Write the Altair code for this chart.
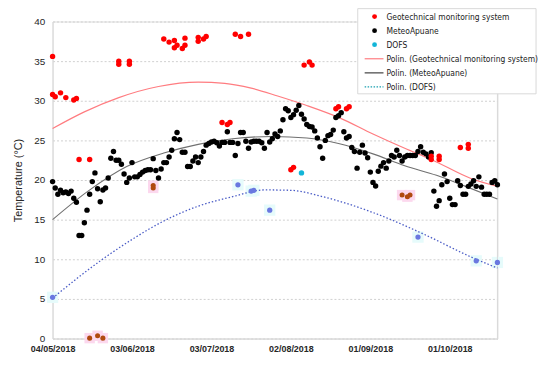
import altair as alt
import pandas as pd

# ---------------- data ----------------
tick_days = [0, 30, 60, 90, 120, 150]
tick_labels = ["04/05/2018", "03/06/2018", "03/07/2018", "02/08/2018", "01/09/2018", "01/10/2018"]
y_ticks = [0, 5, 10, 15, 20, 25, 30, 35, 40]

# MeteoApuane: one value per day from 04/05/2018
meteo_temp = [
    19.8, 19.0, 18.2, 18.7, 18.4, 18.5, 18.3, 18.6, 17.7, 17.2,
    13.0, 13.0, 14.6, 16.2, 18.2, 19.8, 20.9, 18.9, 17.25, 18.75,
    19.0, 20.25, 22.75, 23.6, 22.5, 22.5, 22.0, 20.75, 19.7, 20.25,
    22.2, 20.4, 20.4, 20.7, 21.0, 21.2, 21.3, 21.3, 22.7, 21.2,
    20.25, 21.4, 22.2, 22.2, 22.9, 23.75, 25.2, 26.0, 25.1, 23.5,
    23.5, 21.7, 21.7, 22.4, 22.9, 22.2, 22.9, 23.6, 24.4, 24.6,
    24.8, 24.9, 24.7, 24.3, 24.75, 24.75, 26.1, 24.75, 24.75, 23.1,
    24.6, 26.0, 26.0, 24.9, 24.0, 24.8, 24.9, 24.9, 24.9, 24.7,
    24.0, 26.0, 24.8, 25.2, 25.8, 25.5, 26.2, 27.6, 29.0, 28.75,
    27.9, 28.25, 28.8, 29.4, 28.3, 27.7, 27.0, 26.75, 26.7, 26.2,
    25.3, 24.2, 22.75, 25.0, 25.6, 25.75, 26.3, 27.9, 28.1, 28.5,
    26.1, 25.3, 25.5, 24.1, 23.6, 21.5, 23.5, 24.4, 23.4, 22.8,
    21.0, 19.7, 19.25, 21.1, 21.75, 22.2, 21.5, 22.4, 23.1, 22.9,
    23.75, 23.1, 22.4, 22.9, 23.1, 23.1, 23.1, 23.1, 23.6, 24.2,
    23.5, 23.3, 22.9, 23.45, 18.6, 16.7, 17.4, 19.4, 20.75, 19.8,
    17.7, 16.9, 16.9, 19.9, 19.3, 18.2, 18.2, 19.2, 19.5, 19.9,
    19.2, 20.4, 19.1, 18.2, 18.2, 18.2, 19.7, 19.9, 19.4,
]
meteo_days = list(range(len(meteo_temp)))

geo_days = [0, 0, 1, 3, 5, 8, 9, 10, 14, 25, 25, 29, 29, 42, 44, 46, 46, 47, 49, 50, 50,
            55, 55, 57, 58, 64, 66, 67, 69, 71, 74, 90, 91, 95, 97, 98, 107, 108, 111, 112,
            143, 143, 146, 146, 154, 157, 157]
geo_temp = [35.6, 30.8, 30.5, 31.0, 30.4, 30.1, 30.3, 22.6, 22.6, 35.0, 34.6, 35.0, 34.6,
            37.8, 37.4, 37.6, 36.7, 37.0, 36.6, 37.0, 37.9, 38.0, 37.5, 37.8, 38.1, 27.25,
            27.0, 27.25, 38.4, 38.1, 38.4, 21.3, 21.6, 34.5, 34.9, 34.5, 29.0, 29.25, 29.0,
            29.25, 23.0, 22.6, 23.0, 22.6, 24.1, 24.5, 24.0]

# highlighted (brown) readings
geo_low_days = [14, 17, 19, 38, 38, 132, 134, 135]
geo_low_temp = [0.05, 0.35, 0.05, 19.3, 19.0, 18.1, 17.9, 18.1]

dofs_days = [0, 70, 75, 76, 82, 138, 160, 168]
dofs_temp = [5.2, 19.4, 18.6, 18.7, 16.2, 12.8, 9.8, 9.6]
dofs_cyan_days = [94]
dofs_cyan_temp = [20.9]

# polynomial trend lines
trend_geo_days = [0, 12, 25, 40, 55, 65, 75, 85, 96, 108, 121, 133, 143, 158, 168]
trend_geo_temp = [26.5, 28.6, 30.4, 31.8, 32.35, 32.2, 31.6, 30.6, 29.4, 27.9, 25.8, 24.0, 22.6, 20.2, 19.2]
trend_met_days = [0, 13, 28, 42, 55, 68, 83, 96, 108, 121, 133, 145, 156, 168]
trend_met_temp = [15.0, 18.5, 21.7, 23.4, 24.5, 25.2, 25.5, 25.3, 24.6, 23.3, 21.8, 20.6, 19.2, 17.6]
trend_dofs_days = [0, 18, 30, 43, 55, 68, 80, 90, 102, 121, 140, 158, 168]
trend_dofs_temp = [5.1, 9.8, 12.5, 15.0, 16.7, 17.9, 18.75, 18.7, 17.9, 15.9, 13.2, 10.3, 8.9]

legend_labels = ["Geotechnical monitoring system", "MeteoApuane", "DOFS",
                 "Polin. (Geotechnical monitoring system)", "Polin. (MeteoApuane)", "Polin. (DOFS)"]

# ---------------- chart ----------------
W, H = 449, 320
FONT = "Liberation Sans"
LFONT = "DejaVu Sans Condensed"

label_expr = "[" + ",".join("'%s'" % t for t in tick_labels) + "][indexof(" + \
    "[" + ",".join(str(d) for d in tick_days) + "], datum.value)]"

X = alt.X("day:Q", scale=alt.Scale(domain=[0, 168], nice=False, zero=False),
          axis=alt.Axis(values=tick_days, labelExpr=label_expr, title=None, grid=False,
                        ticks=False, domainColor="#d9d9d9", labelFont=FONT, labelFontSize=9,
                        labelColor="#262626", labelPadding=6, labelFontWeight="bold",
                        labelFlush=False, labelOverlap=False))
Y = alt.Y("temp:Q", scale=alt.Scale(domain=[0, 40], nice=False),
          axis=alt.Axis(values=y_ticks, title="Temperature (°C)", grid=True, gridDash=[2, 2],
                        gridColor="#cfcfcf", ticks=False, domainColor="#d9d9d9",
                        labelFont=FONT, labelFontSize=10, labelColor="#262626", labelPadding=8,
                        titleFont=FONT, titleFontSize=11, titleFontWeight="normal",
                        titleColor="#262626", titlePadding=10))

meteo = pd.DataFrame({"day": meteo_days, "temp": meteo_temp})
geo = pd.DataFrame({"day": geo_days, "temp": geo_temp})
geo_low = pd.DataFrame({"day": geo_low_days, "temp": geo_low_temp})
dofs = pd.DataFrame({"day": dofs_days, "temp": dofs_temp})
dofs_c = pd.DataFrame({"day": dofs_cyan_days, "temp": dofs_cyan_temp})
tg = pd.DataFrame({"day": trend_geo_days, "temp": trend_geo_temp})
tm = pd.DataFrame({"day": trend_met_days, "temp": trend_met_temp})
td = pd.DataFrame({"day": trend_dofs_days, "temp": trend_dofs_temp})

layers = []
# halos
layers.append(alt.Chart(geo_low).mark_square(size=110, color="#fcd8ee", opacity=1).encode(x=X, y=Y))
layers.append(alt.Chart(dofs).mark_square(size=130, color="#e6fbfb", opacity=1).encode(x=X, y=Y))
# right border
layers.append(alt.Chart(pd.DataFrame({"a": [0]})).mark_rule(color="#d9d9d9", strokeWidth=1).encode(
    x=alt.value(W), y=alt.value(0), y2=alt.value(H)))
# trend lines
layers.append(alt.Chart(td).mark_line(color="#4a5cc6", strokeWidth=1.3, strokeDash=[1.5, 2],
                                       interpolate="monotone").encode(x=X, y=Y))
layers.append(alt.Chart(tg).mark_line(color="#ff7c80", strokeWidth=1.2,
                                       interpolate="monotone").encode(x=X, y=Y))
layers.append(alt.Chart(tm).mark_line(color="#707070", strokeWidth=1.1,
                                       interpolate="monotone").encode(x=X, y=Y))
# points
layers.append(alt.Chart(meteo).mark_circle(size=30, color="#000000", opacity=1).encode(x=X, y=Y))
layers.append(alt.Chart(geo).mark_circle(size=30, color="#ff0000", opacity=1).encode(x=X, y=Y))
layers.append(alt.Chart(geo_low).mark_circle(size=26, color="#b04a10", opacity=1).encode(x=X, y=Y))
layers.append(alt.Chart(dofs).mark_circle(size=28, color="#6a78e0", opacity=1).encode(x=X, y=Y))
layers.append(alt.Chart(dofs_c).mark_circle(size=30, color="#12b5d8", opacity=1).encode(x=X, y=Y))

# legend
LX0, LX1, LY0, LY1 = 308, 488, -13, 73
layers.append(alt.Chart(pd.DataFrame({"a": [0]})).mark_rect(fill="white", stroke="#d9d9d9",
                                                             strokeWidth=1).encode(
    x=alt.value(LX0), x2=alt.value(LX1), y=alt.value(LY0), y2=alt.value(LY1)))
row_y = [-5 + 14.2 * i for i in range(6)]
sym_colors = ["#ff0000", "#000000", "#12b5d8"]
for i in range(3):
    layers.append(alt.Chart(pd.DataFrame({"a": [0]})).mark_circle(size=24, color=sym_colors[i],
                                                                   opacity=1).encode(
        x=alt.value(325), y=alt.value(row_y[i])))
line_styles = [("#ff7c80", None, 1.2), ("#707070", None, 1.6), ("#1aa0b0", [1.5, 1.5], 1.4)]
for j, (c, d, w) in enumerate(line_styles):
    kw = dict(color=c, strokeWidth=w)
    if d:
        kw["strokeDash"] = d
    layers.append(alt.Chart(pd.DataFrame({"a": [0]})).mark_rule(**kw).encode(
        x=alt.value(315), x2=alt.value(334), y=alt.value(row_y[3 + j])))
for i, lab in enumerate(legend_labels):
    layers.append(alt.Chart(pd.DataFrame({"label": [lab]})).mark_text(
        align="left", baseline="middle", font=LFONT, fontSize=8.5, fontWeight="normal",
        color="#1a1a1a").encode(x=alt.value(337), y=alt.value(row_y[i]), text="label:N"))

chart = alt.layer(*layers).properties(
    width=W, height=H,
    padding={"left": 45, "top": 12, "right": 45, "bottom": 18},
    autosize=alt.AutoSizeParams(type="none"),
).configure_view(stroke=None).configure(background="white")

chart.save("out.html", embed_options={"renderer": "svg", "actions": False})
